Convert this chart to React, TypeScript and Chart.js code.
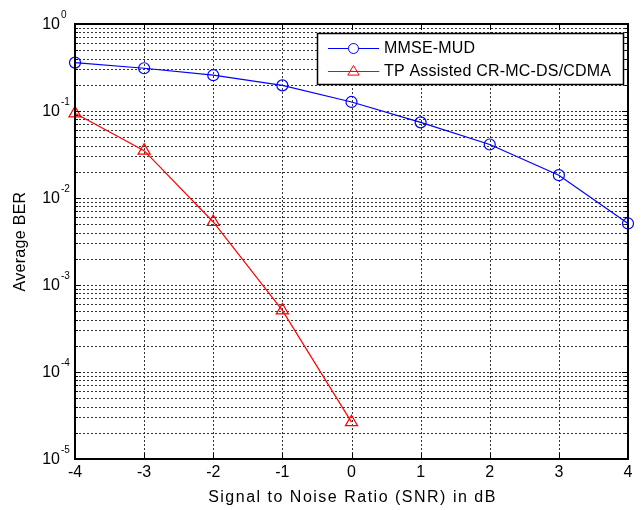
import React, { useEffect, useRef } from "react";
import { Chart, registerables } from "chart.js";

Chart.register(...registerables);

const snrValues = [-4, -3, -2, -1, 0, 1, 2, 3, 4];
const mmseBer = [0.36, 0.31, 0.258, 0.197, 0.127, 0.074, 0.0412, 0.0183, 0.0051];
const tpSnrValues = [-4, -3, -2, -1, 0];
const tpBer = [0.094, 0.035, 0.0053, 0.00051, 0.0000265];

const seriesLabels = ["MMSE-MUD", "TP Assisted CR-MC-DS/CDMA"];
const seriesColors = ["#0000ff", "#ff0000"];
const xTickValues = [-4, -3, -2, -1, 0, 1, 2, 3, 4];
const yDecadeExponents = [-5, -4, -3, -2, -1, 0];
const yMinorMultipliers = [2, 3, 4, 5, 6, 7, 8, 9];
const xTitle = "Signal to Noise Ratio (SNR) in dB";
const yTitle = "Average BER";

const FONT = '"Liberation Sans", Arial, Helvetica, sans-serif';

function setSpacing(ctx: any, px: number) {
  if ("letterSpacing" in ctx) ctx.letterSpacing = px + "px";
}

const matlabPlugin = {
  id: "matlabStyle",
  beforeDatasetsDraw(chart: any) {
    const { ctx, chartArea: a, scales } = chart;
    const xs = scales.x;
    const ys = scales.y;
    ctx.save();
    ctx.lineWidth = 1;
    ctx.strokeStyle = "#333";
    ctx.setLineDash([2, 2]);
    xTickValues.forEach((v) => {
      const px = Math.round(xs.getPixelForValue(v)) + 0.5;
      if (px <= a.left + 1 || px >= a.right - 1) return;
      ctx.beginPath();
      ctx.moveTo(px, a.top);
      ctx.lineTo(px, a.bottom);
      ctx.stroke();
    });
    yDecadeExponents.forEach((e) => {
      const vals = [1, ...yMinorMultipliers].map((m) => m * Math.pow(10, e));
      vals.forEach((v) => {
        if (v <= 1e-5 * 1.0001 || v >= 0.9999) return;
        const py = Math.round(ys.getPixelForValue(v)) + 0.5;
        ctx.beginPath();
        ctx.moveTo(a.left, py);
        ctx.lineTo(a.right, py);
        ctx.stroke();
      });
    });
    ctx.restore();
  },
  afterDatasetsDraw(chart: any) {
    const { ctx, chartArea: a, scales } = chart;
    const xs = scales.x;
    const ys = scales.y;
    ctx.save();
    ctx.setLineDash([]);
    ctx.strokeStyle = "#000";
    ctx.lineWidth = 2;
    ctx.strokeRect(Math.round(a.left), Math.round(a.top), Math.round(a.right - a.left), Math.round(a.bottom - a.top));
    ctx.lineWidth = 1;
    xTickValues.forEach((v) => {
      const px = Math.round(xs.getPixelForValue(v)) + 0.5;
      ctx.beginPath();
      ctx.moveTo(px, a.bottom);
      ctx.lineTo(px, a.bottom - 6);
      ctx.moveTo(px, a.top);
      ctx.lineTo(px, a.top + 6);
      ctx.stroke();
    });
    yDecadeExponents.forEach((e) => {
      const major = Math.pow(10, e);
      const py = Math.round(ys.getPixelForValue(major)) + 0.5;
      ctx.beginPath();
      ctx.moveTo(a.left, py);
      ctx.lineTo(a.left + 6, py);
      ctx.moveTo(a.right, py);
      ctx.lineTo(a.right - 6, py);
      ctx.stroke();
      if (e < 0) {
        yMinorMultipliers.forEach((m) => {
          const my = Math.round(ys.getPixelForValue(m * major)) + 0.5;
          ctx.beginPath();
          ctx.moveTo(a.left, my);
          ctx.lineTo(a.left + 3, my);
          ctx.moveTo(a.right, my);
          ctx.lineTo(a.right - 3, my);
          ctx.stroke();
        });
      }
    });
    ctx.fillStyle = "#000";
    ctx.font = `16px ${FONT}`;
    ctx.textAlign = "center";
    ctx.textBaseline = "alphabetic";
    xTickValues.forEach((v) => {
      ctx.fillText(String(v), xs.getPixelForValue(v), a.bottom + 18);
    });
    yDecadeExponents.forEach((e) => {
      const py = ys.getPixelForValue(Math.pow(10, e));
      ctx.font = `16px ${FONT}`;
      ctx.textAlign = "right";
      ctx.textBaseline = "middle";
      ctx.fillText("10", a.left - 15, py + 1);
      ctx.font = `10px ${FONT}`;
      ctx.textAlign = "left";
      ctx.fillText(e === 0 ? "0" : "-" + Math.abs(e), a.left - 14, py - 9);
    });
    ctx.font = `16px ${FONT}`;
    ctx.textAlign = "center";
    ctx.textBaseline = "alphabetic";
    setSpacing(ctx, 1.5);
    ctx.fillText(xTitle, (a.left + a.right) / 2 + 1, a.bottom + 43);
    setSpacing(ctx, 0.3);
    ctx.save();
    ctx.translate(25, (a.top + a.bottom) / 2);
    ctx.rotate(-Math.PI / 2);
    ctx.fillText(yTitle, 0, 0);
    ctx.restore();
    setSpacing(ctx, 0);
    const lx = 317, ly = 33, lw = 306, lh = 51;
    ctx.fillStyle = "#fff";
    ctx.fillRect(lx, ly, lw, lh);
    ctx.strokeStyle = "#000";
    ctx.lineWidth = 1.5;
    ctx.strokeRect(lx + 0.5, ly + 0.5, lw, lh);
    const rows = [48, 71];
    chart.data.datasets.forEach((ds: any, i: number) => {
      const y = rows[i] + 0.5;
      ctx.strokeStyle = ds.borderColor;
      ctx.lineWidth = 1;
      ctx.beginPath();
      ctx.moveTo(328, y);
      ctx.lineTo(379, y);
      ctx.stroke();
      ctx.beginPath();
      if (ds.pointStyle === "circle") {
        ctx.fillStyle = "#fff";
        ctx.arc(353.5, y, 5, 0, Math.PI * 2);
        ctx.fill();
        ctx.stroke();
      } else {
        const r = 6;
        ctx.fillStyle = "#fff";
        ctx.moveTo(353.5, y - r);
        ctx.lineTo(353.5 + r * 0.95, y + r * 0.6);
        ctx.lineTo(353.5 - r * 0.95, y + r * 0.6);
        ctx.closePath();
        ctx.stroke();
      }
      ctx.fillStyle = "#000";
      ctx.font = `16px ${FONT}`;
      setSpacing(ctx, 0.2);
      ctx.textAlign = "left";
      ctx.textBaseline = "middle";
      ctx.fillText(ds.label, 384, rows[i] + 1);
      setSpacing(ctx, 0);
    });
    ctx.restore();
  },
};

export default function App() {
  const ref = useRef<HTMLCanvasElement | null>(null);
  useEffect(() => {
    document.body.style.margin = "0";
    const canvas = ref.current;
    if (!canvas) return;
    const chart = new Chart(canvas, {
      type: "line",
      data: {
        datasets: [
          {
            label: seriesLabels[0],
            data: snrValues.map((x, i) => ({ x, y: mmseBer[i] })),
            borderColor: seriesColors[0],
            backgroundColor: "transparent",
            borderWidth: 1.2,
            pointStyle: "circle",
            pointRadius: 5.5,
            pointBorderWidth: 1.2,
            pointBackgroundColor: "transparent",
            tension: 0,
            clip: false,
          },
          {
            label: seriesLabels[1],
            data: tpSnrValues.map((x, i) => ({ x, y: tpBer[i] })),
            borderColor: seriesColors[1],
            backgroundColor: "transparent",
            borderWidth: 1.2,
            pointStyle: "triangle",
            pointRadius: 7,
            pointBorderWidth: 1.2,
            pointBackgroundColor: "transparent",
            tension: 0,
            clip: false,
          },
        ],
      },
      options: {
        animation: false,
        responsive: false,
        devicePixelRatio: 1,
        layout: { padding: { left: 75, right: 13, top: 24, bottom: 51 } },
        plugins: { legend: { display: false }, tooltip: { enabled: false } },
        scales: {
          x: { type: "linear", min: -4, max: 4, display: false },
          y: { type: "logarithmic", min: 1e-5, max: 1, display: false },
        },
      },
      plugins: [matlabPlugin],
    });
    return () => chart.destroy();
  }, []);
  return <canvas ref={ref} width={641} height={510} style={{ display: "block" }} />;
}
